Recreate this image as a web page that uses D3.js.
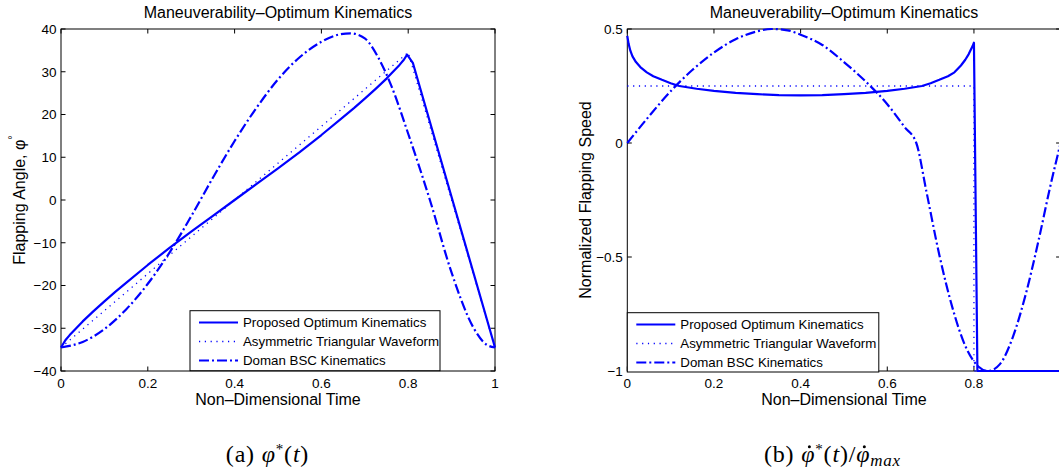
<!DOCTYPE html>
<html><head><meta charset="utf-8">
<script src="https://cdn.jsdelivr.net/npm/d3@7"></script>
<style>
body{margin:0;background:#fff;}
svg{display:block;}
text{font-family:"Liberation Sans",Arial,Helvetica,sans-serif;fill:#000;}
.cap{font-family:"Liberation Serif","Times New Roman",serif;}
</style></head><body>
<svg id="chart" width="1059" height="474"></svg>
<script>
// ---------- data ----------
const chartTitle = "Maneuverability\u2013Optimum Kinematics";
const xLabel = "Non\u2013Dimensional Time";
const seriesNames = ["Proposed Optimum Kinematics","Asymmetric Triangular Waveform","Doman BSC Kinematics"];
const xTicks = [0,0.2,0.4,0.6,0.8,1];
const xTickLabelsA = ["0","0.2","0.4","0.6","0.8","1"];
const xTickLabelsB = ["0","0.2","0.4","0.6","0.8",""];   // "1" falls outside the picture
const angleTicks = [-40,-30,-20,-10,0,10,20,30,40];
const angleTickLabels = ["\u221240","\u221230","\u221220","\u221210","0","10","20","30","40"];
const speedTicks = [-1,-0.5,0,0.5];
const speedTickLabels = ["\u22121","\u22120.5","0","0.5"];

// (a) flapping angle, degrees
const optAngleT = [0,0.01,0.02,0.035,0.05,0.075,0.1,0.125,0.15,0.2,0.25,0.3,0.35,0.4,0.45,0.5,0.55,0.6,0.65,0.675,0.7,0.725,0.75,0.765,0.78,0.79,0.7975,0.811,1];
const optAngle  = [-34.5,-32.8,-31.6,-30.0,-28.4,-26.0,-23.7,-21.5,-19.4,-15.2,-11.2,-7.4,-3.7,0,3.7,7.4,11.2,15.2,19.4,21.5,23.7,26.0,28.4,30.0,31.6,32.8,34.0,32.0,-34.5];
const triAngleT = [0,0.8,1];
const triAngle  = [-34.5,34.5,-34.5];
const bscAngleT = [0,0.05,0.1,0.15,0.2,0.25,0.3,0.35,0.4,0.45,0.5,0.55,0.6,0.64,0.667,0.7,0.73,0.76,0.8,0.85,0.9,0.95,0.98,1];
const bscAngle  = [-34.5,-33.2,-30.2,-25.6,-19.6,-12.3,-3.8,5.2,13.8,21.5,28.2,33.4,37.0,38.7,39.0,37.8,33.5,27.0,15.5,0,-17.0,-29.8,-33.8,-34.5];

// (b) normalized flapping speed
const optSpeedT = [0,0.003,0.007,0.012,0.02,0.03,0.045,0.06,0.08,0.1,0.12,0.16,0.2,0.25,0.3,0.35,0.4,0.45,0.5,0.55,0.6,0.64,0.68,0.7,0.72,0.74,0.755,0.77,0.78,0.788,0.793,0.797,0.8,0.808,1];
const optSpeed  = [0.47,0.435,0.405,0.38,0.355,0.333,0.31,0.293,0.277,0.262,0.25,0.238,0.229,0.22,0.214,0.21,0.209,0.21,0.214,0.22,0.229,0.238,0.25,0.262,0.277,0.293,0.31,0.34,0.365,0.39,0.41,0.425,0.44,-1,-1];
const triSpeedT = [0,0.8,0.8,1];
const triSpeed  = [0.25,0.25,-1,-1];
const bscSpeedT = [0,0.05,0.1,0.15,0.2,0.25,0.3,0.333,0.37,0.4,0.45,0.5,0.55,0.6,0.64,0.667,0.69,0.72,0.75,0.78,0.81,0.833,0.86,0.89,0.92,0.95,0.975,1];
const bscSpeed  = [0,0.117,0.227,0.32,0.397,0.455,0.49,0.5,0.494,0.475,0.43,0.355,0.27,0.17,0.07,0,-0.21,-0.49,-0.72,-0.89,-0.98,-1,-0.97,-0.85,-0.66,-0.42,-0.2,0];

// ---------- drawing ----------
const svg = d3.select("#chart");
const blue = "#0000ff";
const styles = [
  {w:2.2, dash:null},
  {w:1.3, dash:"1.2,4.6"},
  {w:2.2, dash:"10,3,2,3"}
];
const zip = (ts, vs) => ts.map((t,i)=>[t, vs[i]]);

function panel(id, opt) {
  const x = d3.scaleLinear().domain([0,1]).range(opt.xr);
  const y = d3.scaleLinear().domain(opt.yd).range([371,29]);
  const g = svg.append("g");
  const [x0,x1] = opt.xr, y0 = 29, y1 = 371;

  svg.append("defs").append("clipPath").attr("id","clip"+id)
    .append("rect").attr("x",x0-2).attr("y",y0-2).attr("width",x1-x0+4).attr("height",y1-y0+4);

  g.append("rect").attr("x",x0).attr("y",y0).attr("width",x1-x0).attr("height",y1-y0)
    .attr("fill","none").attr("stroke","#000").attr("stroke-width",1);

  const tl = 4.5;
  xTicks.forEach((t,i)=>{
    const px = x(t);
    g.append("line").attr("x1",px).attr("x2",px).attr("y1",y1).attr("y2",y1-tl).attr("stroke","#000");
    g.append("line").attr("x1",px).attr("x2",px).attr("y1",y0).attr("y2",y0+tl).attr("stroke","#000");
    if (opt.xtl[i]) g.append("text").attr("x",px).attr("y",387.5).attr("text-anchor","middle")
      .attr("font-size",13.5).text(opt.xtl[i]);
  });
  opt.yt.forEach((t,i)=>{
    const py = y(t);
    g.append("line").attr("x1",x0).attr("x2",x0+tl).attr("y1",py).attr("y2",py).attr("stroke","#000");
    g.append("line").attr("x1",x1).attr("x2",x1-tl).attr("y1",py).attr("y2",py).attr("stroke","#000");
    g.append("text").attr("x",x0-4.5).attr("y",py+4.8).attr("text-anchor","end")
      .attr("font-size",13.5).text(opt.ytl[i]);
  });

  g.append("text").attr("x",(x0+x1)/2).attr("y",17.5).attr("text-anchor","middle")
    .attr("font-size",16).text(chartTitle);
  g.append("text").attr("x",(x0+x1)/2).attr("y",405).attr("text-anchor","middle")
    .attr("font-size",16).text(xLabel);
  const yl = g.append("text").attr("transform",`translate(${x0-36},200) rotate(-90)`)
    .attr("text-anchor","middle").attr("font-size",16);
  yl.append("tspan").text(opt.ylabel);
  if (opt.ysup) yl.append("tspan").attr("dy",-9).attr("font-size",11).text(opt.ysup);

  const lg = g.append("g").attr("clip-path",`url(#clip${id})`);
  opt.series.forEach((s,i)=>{
    const line = d3.line().x(d=>x(d[0])).y(d=>y(d[1])).curve(s.curve);
    lg.append("path").datum(s.data).attr("d",line).attr("fill","none")
      .attr("stroke",blue).attr("stroke-width",styles[i].w)
      .attr("stroke-dasharray",styles[i].dash)
      .attr("stroke-linejoin","round");
  });

  const L = opt.legend;
  const leg = g.append("g");
  leg.append("rect").attr("x",L.x).attr("y",L.y).attr("width",L.w).attr("height",L.h)
    .attr("fill","#fff").attr("stroke","#000").attr("stroke-width",1);
  seriesNames.forEach((n,i)=>{
    const by = L.y + 16.5 + i*19;
    leg.append("line").attr("x1",L.x+9).attr("x2",L.x+48).attr("y1",by-4.7).attr("y2",by-4.7)
      .attr("stroke",blue).attr("stroke-width",styles[i].w).attr("stroke-dasharray",styles[i].dash);
    leg.append("text").attr("x",L.x+53).attr("y",by).attr("font-size",13.3).text(n);
  });
}

panel("a", {
  xr:[61,495], yd:[-40,40], yt:angleTicks, ytl:angleTickLabels, xtl:xTickLabelsA,
  ylabel:"Flapping Angle, \u03c6", ysup:"\u00b0",
  series:[
    {data:zip(optAngleT,optAngle), curve:d3.curveLinear},
    {data:zip(triAngleT,triAngle), curve:d3.curveLinear},
    {data:zip(bscAngleT,bscAngle), curve:d3.curveMonotoneX}
  ],
  legend:{x:190,y:310.7,w:250,h:60}
});
panel("b", {
  xr:[627.3,1060.6], yd:[-1,0.5], yt:speedTicks, ytl:speedTickLabels, xtl:xTickLabelsB,
  ylabel:"Normalized Flapping Speed", ysup:null,
  series:[
    {data:zip(optSpeedT,optSpeed), curve:d3.curveLinear},
    {data:zip(triSpeedT,triSpeed), curve:d3.curveLinear},
    {data:zip(bscSpeedT,bscSpeed), curve:d3.curveMonotoneX}
  ],
  legend:{x:627.3,y:312.7,w:251.5,h:59.3}
});

// captions
const capSize = 24;
function caption(cx, parts, dots) {
  const t = svg.append("text").attr("class","cap").attr("x",cx).attr("y",462)
    .attr("text-anchor","middle").attr("font-size",capSize).attr("letter-spacing",0.8);
  parts.forEach(p=>{
    const s = t.append("tspan").text(p.s);
    if (p.i) s.attr("font-style","italic");
    if (p.fs) s.attr("font-size",p.fs);
    if (p.dy) s.attr("dy",p.dy);
  });
  const node = t.node();
  dots.forEach(ci=>{
    const r = node.getExtentOfChar(ci);
    svg.append("circle").attr("cx",r.x + r.width*0.58).attr("cy",r.y + r.height*0.22)
      .attr("r",1.5).attr("fill","#000");
  });
}
caption(267.5, [
  {s:"(a) "},{s:"\u03c6",i:1},{s:"*",fs:15,dy:-8},{s:"(",dy:8},{s:"t",i:1},{s:")"}
], []);
caption(832.5, [
  {s:"(b) "},{s:"\u03c6",i:1},{s:"*",fs:15,dy:-8},{s:"(",dy:8},{s:"t",i:1},{s:")/"},
  {s:"\u03c6",i:1},{s:"max",i:1,fs:17,dy:4}
], [4,10]);
</script>
</body></html>
